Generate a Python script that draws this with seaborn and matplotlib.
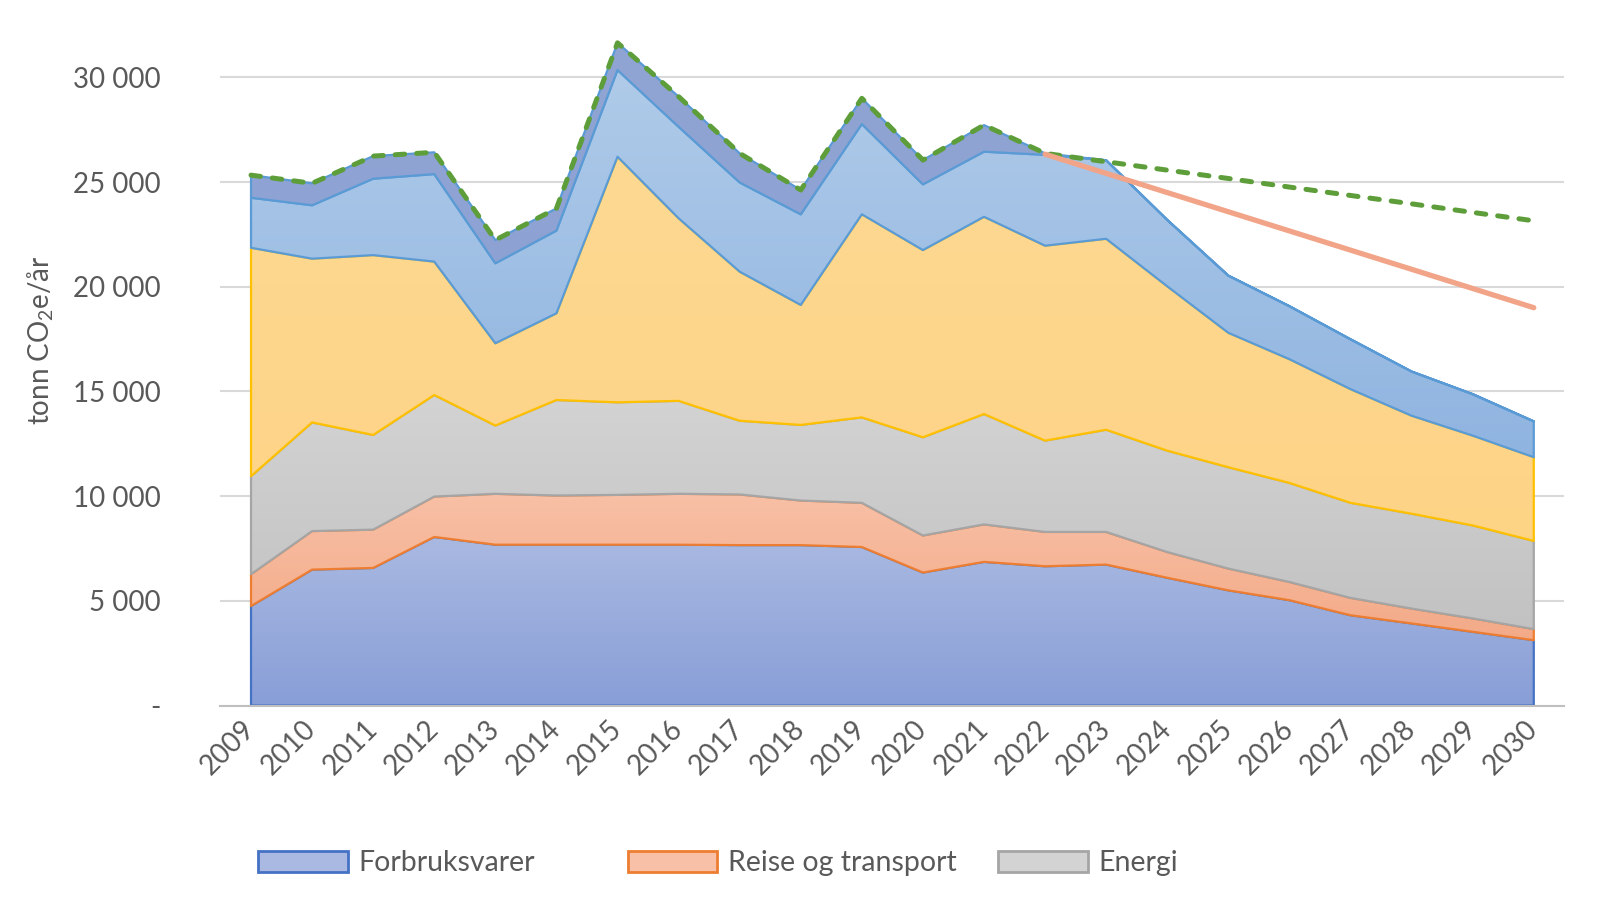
import numpy as np
import matplotlib
matplotlib.use("Agg")
import matplotlib.pyplot as plt
from matplotlib.colors import LinearSegmentedColormap
from matplotlib.patches import Patch
import seaborn as sns

# ---------------- data ----------------
years = [2009, 2010, 2011, 2012, 2013, 2014, 2015, 2016, 2017, 2018, 2019,
         2020, 2021, 2022, 2023, 2024, 2025, 2026, 2027, 2028, 2029, 2030]

forbruksvarer = [4750, 6490, 6570, 8050, 7680, 7680, 7680, 7680, 7660, 7660, 7570,
                 6350, 6860, 6650, 6730, 6100, 5500, 5030, 4310, 3920, 3520, 3120]
reise_transport = [1520, 1840, 1830, 1930, 2430, 2350, 2380, 2430, 2420, 2130, 2110,
                   1770, 1790, 1640, 1560, 1230, 1040, 870, 830, 710, 640, 530]
energi = [4680, 5190, 4520, 4850, 3260, 4560, 4420, 4440, 3520, 3610, 4080,
          4690, 5270, 4360, 4880, 4840, 4840, 4730, 4540, 4530, 4440, 4210]
serie_gul = [10910, 7820, 8590, 6370, 3930, 4140, 11730, 8720, 7120, 5730, 9700,
             8940, 9420, 9310, 9120, 7850, 6420, 5910, 5430, 4680, 4290, 4000]
serie_lysblaa = [2390, 2550, 3650, 4180, 3820, 3950, 4140, 4370, 4260, 4330, 4310,
                 3140, 3110, 4340, 3750, 3170, 2730, 2530, 2380, 2110, 1980, 1710]
serie_blaa = [1080, 1050, 1080, 1040, 1110, 1060, 1300, 1440, 1390, 1160, 1230,
              1160, 1270, 70, 0, 0, 0, 0, 0, 0, 0, 0]

# projected path (dashed) from 2022 to 2030
framskriving_years = [2022, 2023, 2024, 2025, 2026, 2027, 2028, 2029, 2030]
framskriving = [26370, 25970, 25570, 25170, 24760, 24360, 23960, 23550, 23150]

# target line
maal_years = [2022, 2030]
maal = [26330, 19000]

legend_labels = ["Forbruksvarer", "Reise og transport", "Energi"]
ytick_values = [0, 5000, 10000, 15000, 20000, 25000, 30000]

# ---------------- style ----------------
sns.set_theme(style="white")
plt.rcParams["font.family"] = ["Lato", "DejaVu Sans"]
plt.rcParams["mathtext.fontset"] = "custom"
plt.rcParams["mathtext.rm"] = "Lato"
plt.rcParams["mathtext.default"] = "regular"

TXT = "#595959"
GRID = "#D9D9D9"
AXIS = "#BFBFBF"

layers = [forbruksvarer, reise_transport, energi, serie_gul, serie_lysblaa, serie_blaa]
grad = [("#889ED7", "#A9B9E1"),
        ("#F3AA88", "#F8C0A6"),
        ("#C2C2C2", "#D3D3D3"),
        ("#FDD386", "#FED992"),
        ("#8FB4E0", "#B0CBE9"),
        ("#8B9FD2", "#91A5D4")]
edges = ["#4472C4", "#ED7D31", "#A5A5A5", "#FFC000", "#5B9BD5", "#5B9BD5"]

fig = plt.figure(figsize=(16, 9), dpi=100)
ax = fig.add_axes([0.1378, 0.2161, 0.8399, 0.7561])

x = np.arange(len(years))
lower = np.zeros(len(years))
z = 2
for vals, (cb, ct), ec in zip(layers, grad, edges):
    upper = lower + np.array(vals, dtype=float)
    poly = ax.fill_between(x, lower, upper, facecolor="none", edgecolor=ec,
                           linewidth=1.6, zorder=z + 0.5, joinstyle="round")
    cmap = LinearSegmentedColormap.from_list("g", [cb, ct])
    g = np.linspace(0, 1, 256).reshape(-1, 1)
    ybot, ytop = lower.min(), max(upper.max(), lower.min() + 1)
    im = ax.imshow(g, cmap=cmap, origin="lower", aspect="auto",
                   extent=[x[0], x[-1], ybot, ytop], zorder=z, interpolation="bilinear")
    im.set_clip_path(poly.get_paths()[0], transform=ax.transData)
    lower = upper
    z += 1

# total line (dashed): stack total up to 2022 then projection
total = np.array(forbruksvarer) + np.array(reise_transport) + np.array(energi) + \
        np.array(serie_gul) + np.array(serie_lysblaa) + np.array(serie_blaa)
i22 = years.index(2022)
total_line = list(total[:i22 + 1]) + framskriving[1:]
sns.lineplot(x=x, y=total_line, color="#5E9E3A", linewidth=3.6, ax=ax,
             legend=False, zorder=20)
dl = ax.lines[-1]
dl.set_dashes((1.9, 2.4))
dl.set_dash_capstyle("round")
dl.set_clip_on(False)

mx = [years.index(yy) for yy in maal_years]
sns.lineplot(x=mx, y=maal, color="#F2A488", linewidth=3.8, ax=ax,
             legend=False, zorder=21)
ax.lines[-1].set_solid_capstyle("round")

# ---------------- axes ----------------
ax.set_xlim(-0.5, len(years) - 0.5)
ax.set_ylim(0, 32500)
ax.set_yticks(ytick_values)
ax.set_yticklabels(["-" if v == 0 else f"{v:,}".replace(",", " ") for v in ytick_values])
ax.yaxis.grid(True, color=GRID, linewidth=1.5, zorder=0)
ax.xaxis.grid(False)
ax.set_axisbelow(True)
ax.tick_params(axis="y", length=0, labelsize=20, labelcolor=TXT, pad=43)

ax.set_xticks(x)
ax.set_xticklabels([str(yy) for yy in years], rotation=45, ha="right",
                   va="center", rotation_mode="anchor")
ax.tick_params(axis="x", which="major", length=0, labelsize=20, labelcolor=TXT, pad=14)
ax.set_xticks(np.arange(-0.5, len(years), 1.0), minor=True)
ax.tick_params(axis="x", which="minor", length=9, width=1.5, color=AXIS,
               direction="out")

for s in ["left", "right", "top"]:
    ax.spines[s].set_visible(False)
ax.spines["bottom"].set_color(AXIS)
ax.spines["bottom"].set_linewidth(1.5)
ax.spines["bottom"].set_zorder(30)

fig.text(0.0256, 0.622, "tonn CO$_2$e/år", rotation=90, ha="center", va="center",
         fontsize=20, color=TXT)

# ---------------- legend ----------------
leg_x = [0.1614, 0.3922, 0.6237]
for lab, xx, i in zip(legend_labels, leg_x, range(3)):
    cb, ct = grad[i]
    h = Patch(facecolor=ct, edgecolor=edges[i], linewidth=2)
    lg = fig.legend(handles=[h], labels=[lab], loc="center left",
                    bbox_to_anchor=(xx, 0.041), frameon=False, fontsize=20.5,
                    handlelength=3.15, handleheight=0.75, handletextpad=0.38,
                    borderpad=0, borderaxespad=0, labelcolor=TXT)

fig.savefig("out.png", dpi=100)
